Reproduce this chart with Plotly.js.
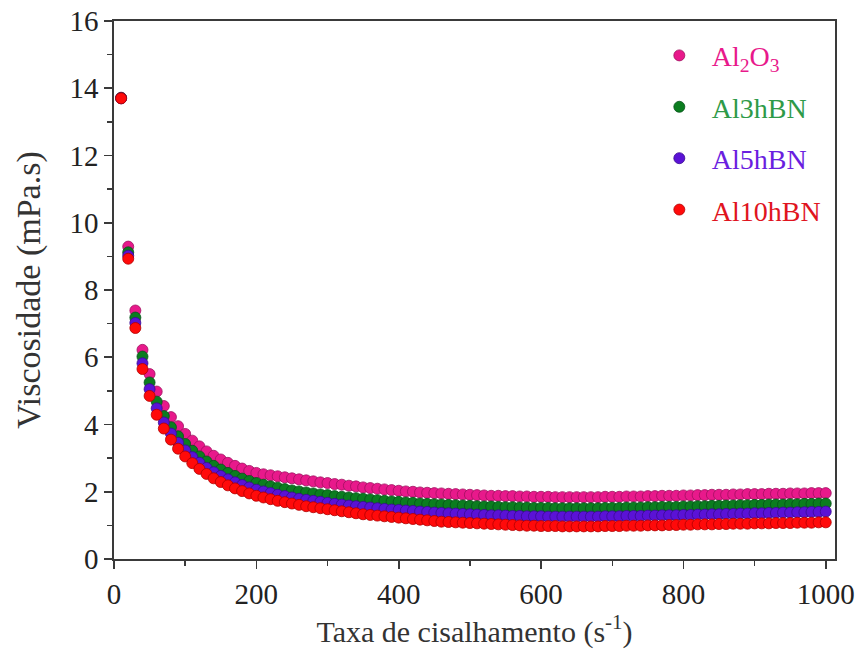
<!DOCTYPE html>
<html>
<head>
<meta charset="utf-8">
<script src="https://cdn.plot.ly/plotly-3.0.1.min.js"></script>
<style>html,body{margin:0;padding:0;background:#fff;}</style>
</head>
<body>
<div id="chart" style="width:860px;height:657px;"></div>
<script>
const shearRate = [10,20,30,40,50,60,70,80,90,100,110,120,130,140,150,160,170,180,190,200,
210,220,230,240,250,260,270,280,290,300,310,320,330,340,350,360,370,380,390,400,
410,420,430,440,450,460,470,480,490,500,510,520,530,540,550,560,570,580,590,600,
610,620,630,640,650,660,670,680,690,700,710,720,730,740,750,760,770,780,790,800,
810,820,830,840,850,860,870,880,890,900,910,920,930,940,950,960,970,980,990,1000];

const al2o3 = [13.72,9.29,7.39,6.22,5.50,4.98,4.55,4.22,3.95,3.72,3.52,3.35,3.20,3.07,2.96,2.86,2.77,2.69,2.62,2.56,
2.52,2.49,2.46,2.43,2.40,2.37,2.34,2.31,2.28,2.26,2.23,2.21,2.18,2.16,2.13,2.11,2.09,2.07,2.05,2.03,
2.01,2.00,1.98,1.97,1.96,1.95,1.94,1.93,1.92,1.91,1.90,1.89,1.88,1.88,1.87,1.87,1.86,1.86,1.85,1.85,
1.85,1.84,1.84,1.84,1.84,1.84,1.84,1.84,1.85,1.85,1.85,1.86,1.86,1.86,1.87,1.87,1.88,1.88,1.88,1.89,
1.89,1.90,1.90,1.91,1.91,1.91,1.92,1.92,1.93,1.93,1.93,1.94,1.94,1.94,1.95,1.95,1.95,1.96,1.96,1.96];

const al3hbn = [13.71,9.12,7.18,6.02,5.25,4.68,4.25,3.92,3.65,3.42,3.22,3.05,2.90,2.77,2.66,2.56,2.47,2.39,2.32,2.26,
2.21,2.16,2.12,2.08,2.04,2.01,1.98,1.95,1.92,1.90,1.87,1.85,1.83,1.81,1.79,1.77,1.75,1.73,1.71,1.70,
1.68,1.67,1.65,1.64,1.63,1.62,1.61,1.60,1.59,1.58,1.57,1.56,1.56,1.55,1.54,1.54,1.53,1.53,1.52,1.52,
1.52,1.51,1.51,1.51,1.51,1.51,1.51,1.51,1.52,1.52,1.52,1.53,1.53,1.53,1.54,1.54,1.55,1.55,1.55,1.56,
1.56,1.57,1.57,1.58,1.58,1.59,1.59,1.60,1.60,1.61,1.61,1.62,1.62,1.62,1.63,1.63,1.64,1.64,1.65,1.65];

const al5hbn = [13.70,9.02,7.02,5.82,5.05,4.48,4.06,3.73,3.46,3.23,3.03,2.86,2.71,2.58,2.47,2.37,2.28,2.20,2.13,2.06,
2.01,1.96,1.91,1.87,1.83,1.79,1.76,1.73,1.70,1.67,1.64,1.62,1.59,1.57,1.55,1.53,1.51,1.49,1.47,1.46,
1.44,1.43,1.41,1.40,1.38,1.37,1.36,1.35,1.34,1.33,1.32,1.31,1.30,1.30,1.29,1.28,1.28,1.27,1.27,1.27,
1.26,1.26,1.26,1.26,1.26,1.26,1.26,1.26,1.27,1.27,1.27,1.28,1.28,1.28,1.29,1.29,1.30,1.30,1.30,1.31,
1.31,1.32,1.32,1.33,1.33,1.34,1.34,1.35,1.35,1.36,1.36,1.37,1.37,1.38,1.38,1.39,1.39,1.40,1.40,1.41];

const al10hbn = [13.70,8.93,6.87,5.65,4.85,4.29,3.88,3.55,3.28,3.05,2.85,2.68,2.53,2.40,2.29,2.19,2.10,2.02,1.95,1.88,
1.83,1.78,1.73,1.69,1.65,1.61,1.57,1.54,1.51,1.48,1.45,1.42,1.39,1.36,1.33,1.31,1.29,1.27,1.25,1.23,
1.21,1.19,1.17,1.15,1.13,1.11,1.10,1.09,1.08,1.07,1.06,1.05,1.04,1.03,1.02,1.01,1.00,0.99,0.99,0.98,
0.98,0.98,0.97,0.97,0.97,0.97,0.97,0.97,0.98,0.98,0.98,0.99,0.99,0.99,1.00,1.00,1.00,1.01,1.01,1.02,
1.02,1.03,1.03,1.03,1.04,1.04,1.05,1.05,1.05,1.06,1.06,1.06,1.07,1.07,1.07,1.08,1.08,1.08,1.09,1.09];

const seriesNames = ['Al<sub>2</sub>O<sub>3</sub>','Al3hBN','Al5hBN','Al10hBN'];
const seriesValues = [al2o3, al3hbn, al5hbn, al10hbn];
const fillColors = ['#e8198b','#0b7d1f','#5a12d6','#ff0a0a'];
const edgeColors = ['#a01060','#06501a','#3a0a90','#b00000'];
const textColors = ['#e8198b','#2e9a48','#6a1ee0','#e0141e'];

const serif = '"Liberation Serif", "Times New Roman", serif';

const traces = seriesNames.map((n, i) => ({
  x: shearRate,
  y: seriesValues[i],
  type: 'scatter',
  mode: 'markers',
  name: '<span style="color:' + textColors[i] + '">' + n + '</span>',
  legendgroup: 'g' + i,
  marker: {size: 11, color: fillColors[i], line: {color: edgeColors[i], width: 0.8}},
  cliponaxis: false
}));

const axisCommon = {
  showline: true, linecolor: '#3a3a3a', linewidth: 1.8, mirror: true,
  ticks: 'outside', ticklen: 8, tickwidth: 1.6, tickcolor: '#3a3a3a',
  showgrid: false, zeroline: false,
  tickfont: {family: serif, size: 29, color: '#222'}
};

const layout = {
  width: 860, height: 657,
  margin: {l: 114, r: 25, t: 21, b: 98},
  paper_bgcolor: '#fff', plot_bgcolor: '#fff',
  font: {family: serif, size: 26, color: '#222'},
  showlegend: true,
  legend: {
    x: 0.739, y: 0.982, xanchor: 'left', yanchor: 'top',
    bgcolor: 'rgba(0,0,0,0)', borderwidth: 0,
    font: {family: serif, size: 28, color: '#222'},
    tracegroupgap: 12, itemwidth: 55
  },
  xaxis: Object.assign({}, axisCommon, {
    range: [0, 1013], tickvals: [0,200,400,600,800,1000], ticktext: ['0','200','400','600','800','1000'],
    minor: {tickvals: [100,300,500,700,900], ticks: 'outside', ticklen: 5, tickwidth: 1.4, tickcolor: '#3a3a3a'},
    title: {text: 'Taxa de cisalhamento (s<sup>-1</sup>)', font: {family: serif, size: 30, color: '#333'}, standoff: 12}
  }),
  yaxis: Object.assign({}, axisCommon, {
    range: [0, 16], tickvals: [0,2,4,6,8,10,12,14,16],
    minor: {tickvals: [1,3,5,7,9,11,13,15], ticks: 'outside', ticklen: 5, tickwidth: 1.4, tickcolor: '#3a3a3a'},
    title: {text: 'Viscosidade (mPa.s)', font: {family: serif, size: 34, color: '#333'}, standoff: 18}
  })
};

Plotly.newPlot('chart', traces, layout, {displayModeBar: false, staticPlot: true});
</script>
</body>
</html>
